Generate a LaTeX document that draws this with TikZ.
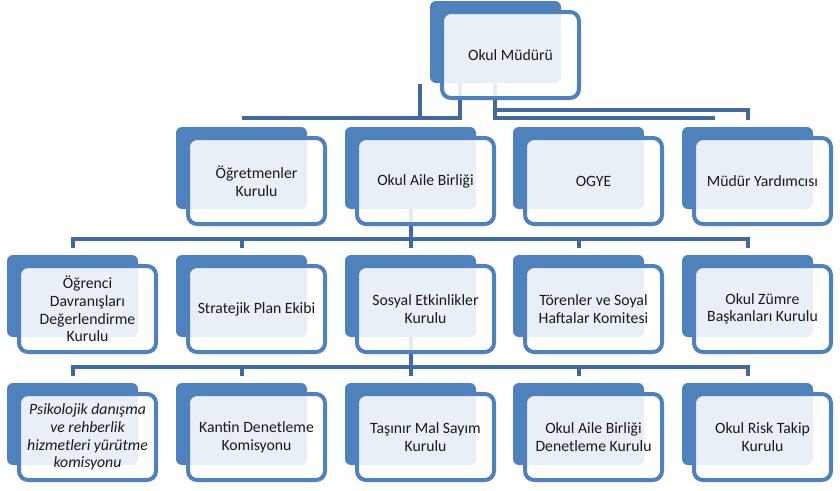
\documentclass[tikz,border=0pt]{standalone}
\usepackage{fontspec}
\setmainfont{Carlito}
\usepackage{tikz}
\usetikzlibrary{backgrounds}

\definecolor{boxblue}{HTML}{4F81BD}
\definecolor{lineblue}{HTML}{41699E}
\definecolor{txtgray}{HTML}{1A1A1A}

\begin{document}
\begin{tikzpicture}[x=0.75pt,y=-0.75pt,
	back/.style={fill=boxblue,rounded corners=4.5pt,minimum width=98.25pt,minimum height=61.5pt,anchor=north west,outer sep=0pt,inner sep=0pt},
	front/.style={draw=boxblue,line width=3pt,fill=white,fill opacity=0.88,text opacity=1,rounded corners=6.75pt,minimum width=102.75pt,minimum height=64.5pt,anchor=north west,align=center,inner sep=2pt,text=txtgray,font=\fontsize{11.8}{13.2}\selectfont},
	conn/.style={draw=lineblue,line width=3pt}]
	\useasboundingbox (0,0) rectangle (840,490);

	% Top
	\node[back] (mud-b) at (430,1) {};
	\node[front] (mud) at (440,10) {Okul Müdürü};

	% Second row
	\node[back] (ogr-b) at (176,127) {};
	\node[front] (ogr) at (186,136) {Öğretmenler\\Kurulu};
	\node[back] (oab-b) at (345,127) {};
	\node[front] (oab) at (355,136) {Okul Aile Birliği};
	\node[back] (ogye-b) at (513,127) {};
	\node[front] (ogye) at (523,136) {OGYE};
	\node[back] (myrd-b) at (682,127) {};
	\node[front] (myrd) at (692,136) {Müdür Yardımcısı};

	% Third row
	\node[back] (odk-b) at (7,255) {};
	\node[front] (odk) at (17,264) {Öğrenci\\Davranışları\\Değerlendirme\\Kurulu};
	\node[back] (spe-b) at (176,255) {};
	\node[front] (spe) at (186,264) {Stratejik Plan Ekibi};
	\node[back] (sek-b) at (345,255) {};
	\node[front] (sek) at (355,264) {Sosyal Etkinlikler\\Kurulu};
	\node[back] (tsh-b) at (513,255) {};
	\node[front] (tsh) at (523,264) {Törenler ve Soyal\\Haftalar Komitesi};
	\node[back] (ozb-b) at (682,255) {};
	\node[front] (ozb) at (692,264) {Okul Zümre\\Başkanları Kurulu};

	% Fourth row
	\node[back] (prh-b) at (7,383) {};
	\node[front,font=\fontsize{11.8}{13.2}\selectfont\itshape] (prh) at (17,392) {Psikolojik danışma\\ve rehberlik\\hizmetleri yürütme\\komisyonu};
	\node[back] (kdk-b) at (176,383) {};
	\node[front] (kdk) at (186,392) {Kantin Denetleme\\Komisyonu};
	\node[back] (tms-b) at (345,383) {};
	\node[front] (tms) at (355,392) {Taşınır Mal Sayım\\Kurulu};
	\node[back] (oabd-b) at (513,383) {};
	\node[front] (oabd) at (523,392) {Okul Aile Birliği\\Denetleme Kurulu};
	\node[back] (ort-b) at (682,383) {};
	\node[front] (ort) at (692,392) {Okul Risk Takip\\Kurulu};

	\begin{scope}[on background layer]
		% Top to second row
		\coordinate (m-l) at (420,84);
		\coordinate (m-c) at (460,60);
		\coordinate (m-r) at (495,60);
		\coordinate (r-mid) at (495,110);
		\coordinate (r-end) at (715,118);
		\coordinate (ogr-bar) at ([yshift=6.75pt]ogr-b.north);
		\coordinate (myrd-top) at ([yshift=5.25pt]myrd-b.north);
		\draw[conn] (ogr-bar) -| (m-c);
		\draw[conn] (m-l) -- (m-l |- ogr-bar);
		\draw[conn] (m-r) |- (r-end);
		\draw[conn] (r-mid) -| (myrd-top);

		% Second to third row
		\draw[conn] ([yshift=5.25pt]odk-b.north) |- ([yshift=12pt]ozb-b.north) -- ([yshift=5.25pt]ozb-b.north);
		\foreach \n in {spe,tsh}
			\draw[conn] ([yshift=5.25pt]\n-b.north) -- ([yshift=12pt]\n-b.north);
		\draw[conn] (oab-b.center) -- ([yshift=5.25pt]sek-b.north);

		% Third to fourth row
		\draw[conn] ([yshift=5.25pt]prh-b.north) |- ([yshift=12pt]ort-b.north) -- ([yshift=5.25pt]ort-b.north);
		\foreach \n in {kdk,oabd}
			\draw[conn] ([yshift=5.25pt]\n-b.north) -- ([yshift=12pt]\n-b.north);
		\draw[conn] (sek-b.center) -- ([yshift=5.25pt]tms-b.north);
	\end{scope}
\end{tikzpicture}
\end{document}
